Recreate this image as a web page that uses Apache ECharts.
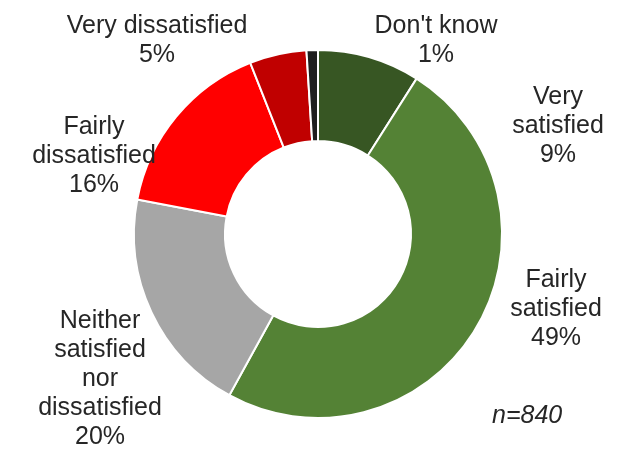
<!DOCTYPE html>
<html>
<head>
<meta charset="utf-8">
<script src="https://cdn.jsdelivr.net/npm/echarts@6/dist/echarts.min.js"></script>
<style>
  html, body { margin: 0; padding: 0; background: #fff; }
  #chart { width: 617px; height: 452px; }
</style>
</head>
<body>
<div id="chart"></div>
<script>
// Satisfaction survey responses (percent of respondents)
const categories = [
  'Very\nsatisfied',
  'Fairly\nsatisfied',
  'Neither\nsatisfied\nnor\ndissatisfied',
  'Fairly\ndissatisfied',
  'Very dissatisfied',
  "Don't know"
];
const values = [9, 49, 20, 16, 5, 1];
const sliceColors = ['#375623', '#548235', '#A6A6A6', '#FF0000', '#C00000', '#1F1F1F'];
const sampleNote = 'n=840';

// Where each slice's label block is centred
const labelSpots = [
  [558, 126],
  [556, 309],
  [100, 379],
  [94, 156],
  [157, 41],
  [436, 41]
];

const chart = echarts.init(document.getElementById('chart'), null, { renderer: 'canvas' });

const textFont = '"Liberation Sans", Arial, sans-serif';

chart.setOption({
  backgroundColor: '#ffffff',
  animation: false,
  series: [{
    type: 'pie',
    center: [318, 234],
    radius: [93, 184],
    startAngle: 90,
    clockwise: true,
    avoidLabelOverlap: false,
    itemStyle: { borderColor: '#ffffff', borderWidth: 2 },
    label: {
      show: true,
      position: 'outside',
      formatter: p => p.name + '\n' + p.value + '%',
      fontFamily: textFont,
      fontSize: 25,
      lineHeight: 29,
      color: '#262626',
      align: 'center'
    },
    labelLine: { show: false },
    labelLayout: p => ({
      x: labelSpots[p.dataIndex][0],
      y: labelSpots[p.dataIndex][1],
      align: 'center',
      verticalAlign: 'middle'
    }),
    emphasis: { disabled: true },
    data: categories.map((name, i) => ({
      name: name,
      value: values[i],
      itemStyle: { color: sliceColors[i] }
    }))
  }],
  graphic: [{
    type: 'text',
    left: 492,
    top: 404,
    style: {
      text: sampleNote,
      fontFamily: textFont,
      fontStyle: 'italic',
      fontSize: 25,
      fill: '#262626'
    }
  }]
});
</script>
</body>
</html>
